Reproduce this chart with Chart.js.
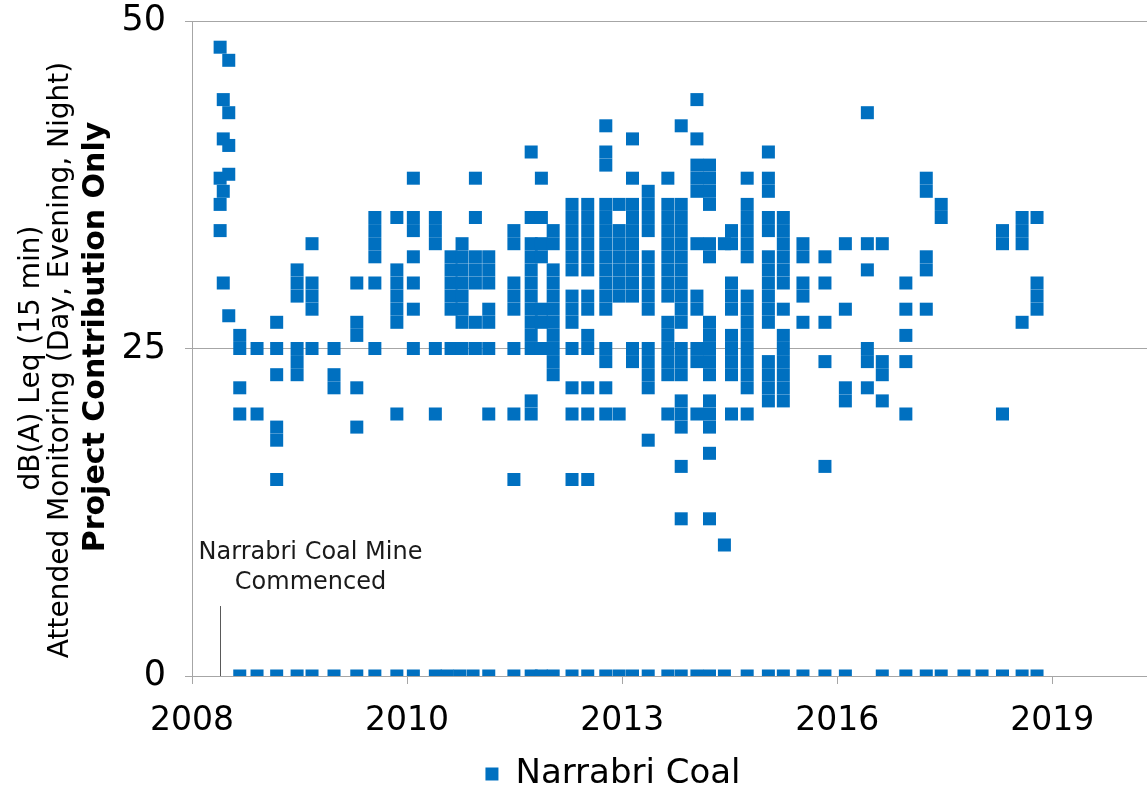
<!DOCTYPE html>
<html><head><meta charset="utf-8">
<script src="https://cdn.jsdelivr.net/npm/chart.js@4.4.1/dist/chart.umd.min.js"></script>
<style>html,body{margin:0;padding:0;background:#fff;}#wrap{width:1147px;height:790px;}</style>
</head><body><div id="wrap"><canvas id="c" width="1147" height="790"></canvas></div>
<script>
const seriesName = 'Narrabri Coal';
const surveyYears = [
 2008.50, 2008.54, 2008.61, 2008.75, 2008.97, 2009.22, 2009.48, 2009.67, 2009.95, 2010.24,
 2010.47, 2010.75, 2010.96, 2011.24, 2011.39, 2011.44, 2011.55, 2011.58, 2011.72, 2011.75,
 2011.92, 2012.24, 2012.46, 2012.59, 2012.74, 2012.98, 2013.18, 2013.41, 2013.58, 2013.75,
 2013.95, 2014.20, 2014.37, 2014.57, 2014.73, 2014.92, 2015.01, 2015.21, 2015.48, 2015.67,
 2015.92, 2016.20, 2016.46, 2016.74, 2016.93, 2017.23, 2017.49, 2017.68, 2017.97, 2018.20,
 2018.46, 2018.71, 2018.90
];
const surveyLevels = [
 [48, 38, 36, 34],
 [44, 41, 37, 30],
 [47, 43, 40.5, 38.3, 27.5],
 [26, 25, 22, 20, 0],
 [25, 20, 0],
 [27, 25, 23, 19, 18, 15, 0],
 [31, 30, 29, 25, 24, 23, 0],
 [33, 30, 29, 28, 25, 0],
 [25, 23, 22, 0],
 [30, 27, 26, 22, 19, 0],
 [35, 34, 33, 32, 30, 25, 0],
 [35, 31, 30, 29, 28, 27, 20, 0],
 [38, 35, 34, 32, 30, 28, 25, 0],
 [35, 34, 33, 25, 20, 0],
 [0],
 [32, 31, 30, 29, 28, 25],
 [0],
 [33, 32, 31, 30, 29, 28, 27, 25],
 [0],
 [38, 35, 32, 31, 30, 27, 25],
 [32, 31, 30, 28, 27, 25, 20, 0],
 [34, 33, 30, 29, 28, 25, 20, 15, 0],
 [40, 35, 33, 32, 31, 30, 29, 28, 27, 26, 25, 21, 20, 0],
 [38, 35, 33, 32, 28, 27, 25, 0],
 [34, 33, 31, 30, 29, 28, 27, 26, 25, 24, 23, 0],
 [36, 35, 34, 33, 32, 31, 29, 28, 27, 25, 22, 20, 15, 0],
 [36, 35, 34, 33, 32, 31, 29, 28, 26, 25, 22, 20, 15, 0],
 [42, 40, 39, 36, 35, 34, 33, 32, 31, 30, 29, 28, 25, 24, 22, 20, 0],
 [36, 34, 33, 32, 31, 30, 29, 20, 0],
 [41, 38, 36, 35, 34, 33, 32, 31, 30, 29, 25, 24, 0],
 [37, 36, 35, 34, 32, 31, 30, 29, 28, 25, 24, 23, 22, 18, 0],
 [38, 36, 35, 34, 33, 32, 31, 30, 29, 27, 26, 25, 24, 23, 20, 0],
 [42, 36, 35, 34, 33, 32, 31, 30, 29, 28, 27, 25, 24, 23, 21, 20, 19, 16, 12, 0],
 [44, 41, 39, 38, 37, 33, 29, 28, 25, 24, 20, 0],
 [39, 38, 37, 36, 33, 32, 27, 26, 25, 24, 23, 21, 20, 19, 17, 12, 0],
 [33, 10, 0],
 [34, 33, 30, 29, 28, 26, 25, 24, 23, 20],
 [38, 36, 35, 34, 33, 32, 29, 28, 27, 26, 25, 24, 23, 22, 20, 0],
 [40, 38, 37, 35, 34, 32, 31, 30, 29, 28, 27, 24, 23, 22, 21, 0],
 [35, 34, 33, 32, 31, 30, 28, 26, 25, 24, 23, 22, 21, 0],
 [33, 32, 30, 29, 27, 0],
 [32, 30, 27, 24, 16, 0],
 [33, 28, 22, 21, 0],
 [43, 33, 31, 25, 24, 22],
 [33, 24, 23, 21, 0],
 [30, 28, 26, 24, 20, 0],
 [38, 37, 32, 31, 28, 0],
 [36, 35, 0],
 [0],
 [0],
 [34, 33, 20, 0],
 [35, 34, 33, 27, 0],
 [35, 30, 29, 28, 0]
];
const yTickValues = [0, 25, 50];
const xTickValues = [2008.142, 2010.880, 2013.618, 2016.356, 2019.094];
const xTickLabels = ['2008', '2010', '2013', '2016', '2019'];
const axisTitleLines = ['dB(A) Leq (15 min)', 'Attended Monitoring (Day, Evening, Night)', 'Project Contribution Only'];
const noteLines = ['Narrabri Coal Mine', 'Commenced'];
const mineStartYear = 2008.50;
const mineStartMarkTop = 5.34;

const FONT = '"DejaVu Sans", Verdana, sans-serif';
const BLUE = '#0070C0';
const AXIS = '#a6a6a6';

const points = [];
surveyYears.forEach((yr, i) => surveyLevels[i].forEach(v => points.push({x: yr, y: v})));

const overlay = {
  id: 'overlay',
  afterDatasetsDraw(chart) {
    const {ctx, scales: {x, y}} = chart;
    ctx.save();
    const lx = Math.round(x.getPixelForValue(mineStartYear)) + 0.5;
    const top = y.getPixelForValue(mineStartMarkTop);
    ctx.strokeStyle = '#595959';
    ctx.lineWidth = 1;
    ctx.beginPath();
    ctx.moveTo(lx, top);
    ctx.lineTo(lx, y.getPixelForValue(0));
    ctx.stroke();
    ctx.fillStyle = '#1a1a1a';
    ctx.font = '24px ' + FONT;
    ctx.textAlign = 'center';
    ctx.textBaseline = 'middle';
    const nx = lx + 90;
    ctx.fillText(noteLines[0], nx, top - 53);
    ctx.fillText(noteLines[1], nx, top - 23);
    ctx.restore();
  },
  afterDraw(chart) {
    const {ctx} = chart;
    const lines = [
      {x: 32, y: 358, font: '28px ' + FONT},
      {x: 61, y: 360, font: '28px ' + FONT},
      {x: 96, y: 337, font: 'bold 30px ' + FONT}
    ];
    ctx.save();
    ctx.fillStyle = '#000';
    ctx.textAlign = 'center';
    ctx.textBaseline = 'middle';
    axisTitleLines.forEach((t, i) => {
      ctx.save();
      ctx.translate(lines[i].x, lines[i].y);
      ctx.rotate(-Math.PI / 2);
      ctx.font = lines[i].font;
      ctx.fillText(t, 0, 0);
      ctx.restore();
    });
    ctx.restore();
  }
};

new Chart(document.getElementById('c'), {
  type: 'scatter',
  data: {
    datasets: [{
      label: seriesName,
      data: points,
      pointStyle: 'rect',
      pointRadius: 9.2,
      pointHoverRadius: 9.2,
      backgroundColor: BLUE,
      borderColor: BLUE,
      borderWidth: 0
    }]
  },
  options: {
    responsive: false,
    animation: false,
    devicePixelRatio: 1,
    layout: {autoPadding: false, padding: {top: 21, right: 0, left: 79, bottom: -11}},
    plugins: {
      tooltip: {enabled: false},
      legend: {
        position: 'bottom',
        labels: {
          usePointStyle: true,
          pointStyle: 'rect',
          boxWidth: 13,
          boxHeight: 13,
          padding: 1,
          color: '#000',
          font: {family: FONT, size: 34, lineHeight: 1}
        }
      }
    },
    scales: {
      x: {
        type: 'linear',
        min: 2008.142,
        max: 2020.30,
        afterBuildTicks: s => { s.ticks = xTickValues.map(v => ({value: v})); },
        afterFit: s => { s.height = 80; s.paddingLeft = 0; s.paddingRight = 0; },
        ticks: {
          callback: (v, i) => xTickLabels[i],
          color: '#000',
          font: {family: FONT, size: 33},
          padding: 18,
          maxRotation: 0,
          autoSkip: false
        },
        grid: {drawOnChartArea: false, drawTicks: true, tickLength: 8, color: AXIS},
        border: {color: AXIS, width: 1}
      },
      y: {
        min: 0,
        max: 50,
        afterBuildTicks: s => { s.ticks = yTickValues.map(v => ({value: v})); },
        afterFit: s => { s.width = 113; s.paddingTop = 0; s.paddingBottom = 0; },
        ticks: {
          color: '#000',
          font: {family: FONT, size: 35},
          padding: 19
        },
        grid: {drawOnChartArea: true, drawTicks: true, tickLength: 7, color: AXIS},
        border: {color: AXIS, width: 1}
      }
    }
  },
  plugins: [overlay]
});
</script>
</body></html>
